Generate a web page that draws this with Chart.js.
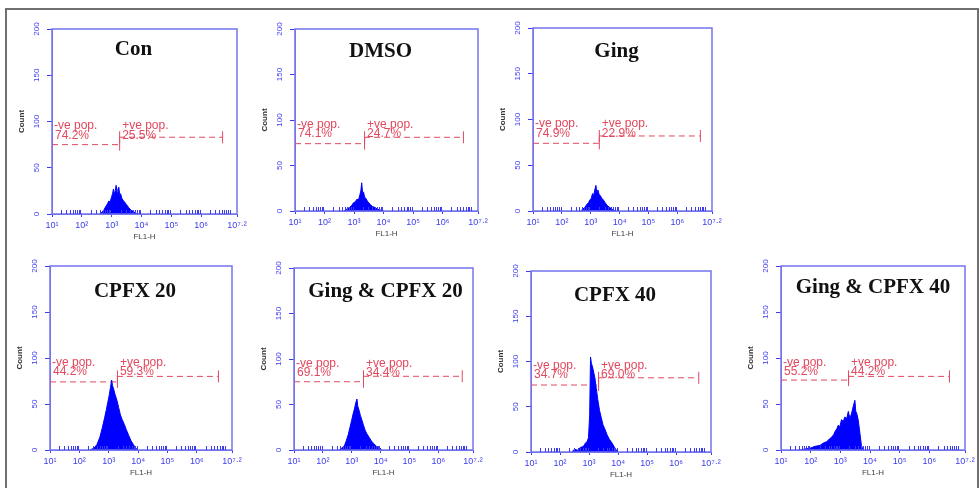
<!DOCTYPE html>
<html>
<head>
<meta charset="utf-8">
<title>FL1-H histograms</title>
<script src="https://cdn.jsdelivr.net/npm/chart.js@4.4.1/dist/chart.umd.min.js"></script>
<style>
    html, body { margin: 0; padding: 0; background: #fff; }
    #figure { position: relative; width: 979px; height: 488px; overflow: hidden; }
    #frame { position: absolute; left: 5px; top: 8px; width: 970px; height: 490px; border: 2px solid #707070; }
    canvas { position: absolute; }
</style>
</head>
<body>
<div id="figure">
    <div id="frame"></div>
</div>
<script>
// ---- data ----
const panelTitles = ['Con', 'DMSO', 'Ging', 'CPFX 20', 'Ging & CPFX 20', 'CPFX 40', 'Ging & CPFX 40'];

// x axis is log10(FL1-H), 10^1 .. 10^7.2
const xTickValues = [1, 2, 3, 4, 5, 6, 7.2];
const xTickLabels = ['10\u00B9', '10\u00B2', '10\u00B3', '10\u2074', '10\u2075', '10\u2076', '10\u2077\u00B7\u00B2'];
const yTickValues = [0, 50, 100, 150, 200];

// gates (-ve pop. / +ve pop.)
const negPercents = ['74.2%', '74.1%', '74.9%', '44.2%', '69.1%', '34.7%', '55.2%'];
const posPercents = ['25.5%', '24.7%', '22.9%', '59.3%', '34.4%', '69.0%', '44.2%'];
const gateSplits = [3.25, 3.34, 3.28, 3.28, 3.39, 3.31, 3.26];
const gateEnds = [6.70, 6.69, 6.78, 6.72, 6.81, 6.76, 6.66];
const negLevels = [75, 74, 74, 74, 75, 74, 76];
const posLevels = [83, 81, 82, 80, 81, 82, 80];

// histogram outlines (log10 x, count)
const conX = [2.6, 2.68, 2.75, 2.8, 2.86, 2.9, 2.95, 3.0, 3.03, 3.06, 3.09, 3.12, 3.15, 3.18, 3.21, 3.24, 3.27, 3.3, 3.34, 3.38, 3.43, 3.5, 3.57, 3.65, 3.72, 3.8, 3.9];
const conY = [0, 2, 5, 8, 11, 14, 13, 19, 22, 27, 21, 25, 31, 23, 27, 29, 20, 22, 17, 15, 13, 10, 7, 4, 3, 1, 0];

const dmsoX = [2.65, 2.75, 2.85, 2.92, 2.98, 3.04, 3.1, 3.15, 3.2, 3.23, 3.26, 3.29, 3.32, 3.36, 3.4, 3.45, 3.5, 3.56, 3.62, 3.7, 3.8, 3.9, 4.0];
const dmsoY = [0, 2, 4, 6, 9, 10, 13, 12, 18, 22, 31, 20, 21, 15, 14, 11, 9, 7, 5, 4, 2, 1, 0];

const gingX = [2.65, 2.72, 2.8, 2.86, 2.92, 2.97, 3.02, 3.06, 3.1, 3.14, 3.18, 3.21, 3.25, 3.29, 3.33, 3.38, 3.44, 3.5, 3.57, 3.65, 3.74, 3.85];
const gingY = [0, 2, 4, 7, 9, 12, 14, 19, 17, 23, 28, 20, 23, 18, 17, 14, 12, 9, 6, 4, 2, 0];

const cpfx20X = [2.35, 2.5, 2.6, 2.7, 2.78, 2.86, 2.92, 2.97, 3.02, 3.06, 3.1, 3.13, 3.17, 3.22, 3.28, 3.34, 3.4, 3.46, 3.53, 3.6, 3.68, 3.76, 3.84, 3.92, 4.0];
const cpfx20Y = [0, 2, 6, 14, 24, 35, 44, 52, 60, 68, 76, 70, 66, 60, 54, 46, 38, 33, 28, 22, 16, 10, 6, 2, 0];

const gingCpfx20X = [2.55, 2.65, 2.75, 2.82, 2.88, 2.94, 3.0, 3.05, 3.1, 3.14, 3.18, 3.21, 3.25, 3.3, 3.35, 3.4, 3.46, 3.52, 3.6, 3.68, 3.76, 3.86, 3.98, 4.05];
const gingCpfx20Y = [0, 2, 5, 11, 17, 25, 33, 40, 46, 52, 56, 48, 44, 38, 33, 28, 22, 18, 14, 10, 7, 4, 2, 0];

const cpfx40X = [2.4, 2.5, 2.6, 2.7, 2.8, 2.88, 2.94, 2.98, 3.02, 3.05, 3.08, 3.12, 3.16, 3.2, 3.25, 3.3, 3.36, 3.42, 3.48, 3.55, 3.62, 3.7, 3.79, 3.88, 3.98];
const cpfx40Y = [0, 3, 2, 5, 6, 10, 12, 16, 40, 105, 98, 94, 88, 82, 70, 58, 46, 38, 30, 25, 19, 14, 10, 5, 0];

const gingCpfx40X = [1.64, 1.8, 1.98, 2.15, 2.31, 2.45, 2.54, 2.63, 2.71, 2.78, 2.82, 2.88, 2.93, 2.98, 3.04, 3.1, 3.15, 3.21, 3.27, 3.32, 3.38, 3.43, 3.49, 3.52, 3.55, 3.6, 3.66, 3.71, 3.77];
const gingCpfx40Y = [0, 1, 2, 4, 5, 8, 9, 12, 14, 17, 20, 23, 27, 25, 33, 31, 36, 34, 42, 34, 40, 47, 54, 42, 40, 33, 18, 5, 0];

const histX = [conX, dmsoX, gingX, cpfx20X, gingCpfx20X, cpfx40X, gingCpfx40X];
const histY = [conY, dmsoY, gingY, cpfx20Y, gingCpfx20Y, cpfx40Y, gingCpfx40Y];

// ---- layout: plot rectangles in page pixels ----
const plotBoxes = [
    { l: 52,  t: 29,  r: 237, b: 214, dx: -11, dy: 21 },
    { l: 295, t: 29,  r: 478, b: 211, dx: -6,  dy: 23 },
    { l: 533, t: 28,  r: 712, b: 211, dx: -6,  dy: 24 },
    { l: 50,  t: 266, r: 232, b: 450, dx: -6,  dy: 26 },
    { l: 294, t: 268, r: 473, b: 450, dx: 2,   dy: 24 },
    { l: 531, t: 271, r: 711, b: 452, dx: -6,  dy: 25 },
    { l: 781, t: 266, r: 965, b: 450, dx: 0,   dy: 22 }
];
const AXIS_W = 40, AXIS_H = 30, PAD_T = 8, PAD_R = 14;

const BLUE = '#0000ff';
const AXIS_BLUE = '#7474ee';
const LABEL_BLUE = '#3c3cf0';
const GATE_RED = '#e2485e';

// draws the box, minor ticks, rotated y labels, title and gates
const flowDecor = {
    id: 'flowDecor',
    beforeDatasetsDraw(chart, args, opts) {
        const ctx = chart.ctx;
        const xs = chart.scales.x, ys = chart.scales.y;
        const i = opts.index;
        const x0 = xs.getPixelForValue(1);
        const xm = xs.getPixelForValue(gateSplits[i]);
        const xe = xs.getPixelForValue(gateEnds[i]);
        const yn = ys.getPixelForValue(negLevels[i]);
        const yp = ys.getPixelForValue(posLevels[i]);

        ctx.save();
        ctx.strokeStyle = GATE_RED;
        ctx.lineWidth = 1;
        ctx.setLineDash([6, 4]);
        ctx.beginPath();
        ctx.moveTo(x0, yn); ctx.lineTo(xm, yn);
        ctx.moveTo(xm, yp); ctx.lineTo(xe, yp);
        ctx.stroke();
        ctx.setLineDash([]);
        ctx.beginPath();
        [[x0, yn], [xm, yn], [xm, yp], [xe, yp]].forEach(([px, py]) => {
            ctx.moveTo(px + 0.5, py - 6); ctx.lineTo(px + 0.5, py + 6);
        });
        ctx.stroke();

        ctx.fillStyle = GATE_RED;
        ctx.font = '12px "Liberation Sans", Arial, sans-serif';
        ctx.textBaseline = 'middle';
        ctx.textAlign = 'left';
        const yLab = ys.getPixelForValue(95), yPct = ys.getPixelForValue(85);
        ctx.fillText('-ve pop.', x0 + 2, yLab);
        ctx.fillText(negPercents[i], x0 + 3, yPct);
        ctx.fillText('+ve pop.', xm + 3, yLab);
        ctx.fillText(posPercents[i], xm + 3, yPct);
        ctx.restore();
    },
    afterDraw(chart, args, opts) {
        const ctx = chart.ctx;
        const area = chart.chartArea;
        const xs = chart.scales.x, ys = chart.scales.y;
        const box = plotBoxes[opts.index];

        ctx.save();
        // plot box
        ctx.strokeStyle = AXIS_BLUE;
        ctx.lineWidth = 1.5;
        ctx.strokeRect(area.left, area.top, area.right - area.left, area.bottom - area.top);

        // log minor ticks along the bottom
        ctx.strokeStyle = LABEL_BLUE;
        ctx.lineWidth = 1;
        ctx.beginPath();
        for (let d = 1; d <= 7; d++) {
            for (let k = 2; k <= 9; k++) {
                const v = d + Math.log10(k);
                if (v > 7.2) continue;
                const px = Math.round(xs.getPixelForValue(v)) + 0.5;
                ctx.moveTo(px, area.bottom);
                ctx.lineTo(px, area.bottom - 4);
            }
        }
        ctx.stroke();

        // rotated y tick labels
        ctx.fillStyle = LABEL_BLUE;
        ctx.font = '8px "Liberation Sans", Arial, sans-serif';
        ctx.textAlign = 'center';
        ctx.textBaseline = 'middle';
        yTickValues.forEach(v => {
            ctx.save();
            ctx.translate(area.left - 15, ys.getPixelForValue(v));
            ctx.rotate(-Math.PI / 2);
            ctx.fillText(String(v), 0, 0);
            ctx.restore();
        });

        // panel title
        ctx.fillStyle = '#111';
        ctx.font = 'bold 21px "Liberation Serif", "Times New Roman", serif';
        ctx.fillText(opts.title, (area.left + area.right) / 2 + box.dx, area.top + box.dy);
        ctx.restore();
    }
};

function makePanel(i) {
    const box = plotBoxes[i];
    const canvas = document.createElement('canvas');
    canvas.width = (box.r - box.l) + AXIS_W + PAD_R;
    canvas.height = (box.b - box.t) + PAD_T + AXIS_H;
    canvas.style.left = (box.l - AXIS_W) + 'px';
    canvas.style.top = (box.t - PAD_T) + 'px';
    document.getElementById('figure').appendChild(canvas);

    const points = histX[i].map((x, j) => ({ x: x, y: histY[i][j] }));

    return new Chart(canvas, {
        type: 'line',
        data: {
            datasets: [{
                label: panelTitles[i],
                data: points,
                borderColor: BLUE,
                backgroundColor: BLUE,
                borderWidth: 1,
                pointRadius: 0,
                tension: 0,
                fill: 'origin'
            }]
        },
        options: {
            responsive: false,
            animation: false,
            devicePixelRatio: 1,
            layout: { padding: { left: 0, top: PAD_T, right: PAD_R, bottom: 0 } },
            plugins: {
                legend: { display: false },
                tooltip: { enabled: false },
                flowDecor: { index: i, title: panelTitles[i] }
            },
            scales: {
                x: {
                    type: 'linear',
                    min: 1,
                    max: 7.2,
                    afterBuildTicks: axis => { axis.ticks = xTickValues.map(v => ({ value: v })); },
                    afterFit: axis => { axis.height = AXIS_H; },
                    ticks: {
                        autoSkip: false,
                        maxRotation: 0,
                        minRotation: 0,
                        padding: 3,
                        color: LABEL_BLUE,
                        font: { size: 9, family: '"Liberation Sans", Arial, sans-serif' },
                        callback: (value, idx) => xTickLabels[idx]
                    },
                    grid: { drawOnChartArea: false, tickLength: 3, color: LABEL_BLUE },
                    border: { color: AXIS_BLUE },
                    title: {
                        display: true,
                        text: 'FL1-H',
                        color: '#444',
                        font: { size: 8, family: '"Liberation Sans", Arial, sans-serif' },
                        padding: { top: 0, bottom: 2 }
                    }
                },
                y: {
                    min: 0,
                    max: 200,
                    afterBuildTicks: axis => { axis.ticks = yTickValues.map(v => ({ value: v })); },
                    afterFit: axis => { axis.width = AXIS_W; },
                    ticks: { display: false },
                    grid: { drawOnChartArea: false, tickLength: 5, color: LABEL_BLUE },
                    border: { color: AXIS_BLUE },
                    title: {
                        display: true,
                        text: 'Count',
                        color: '#333',
                        font: { size: 8, weight: 'bold', family: '"Liberation Sans", Arial, sans-serif' },
                        padding: { top: 5, bottom: 0 }
                    }
                }
            }
        },
        plugins: [flowDecor]
    });
}

panelTitles.forEach((t, i) => makePanel(i));
</script>
</body>
</html>
